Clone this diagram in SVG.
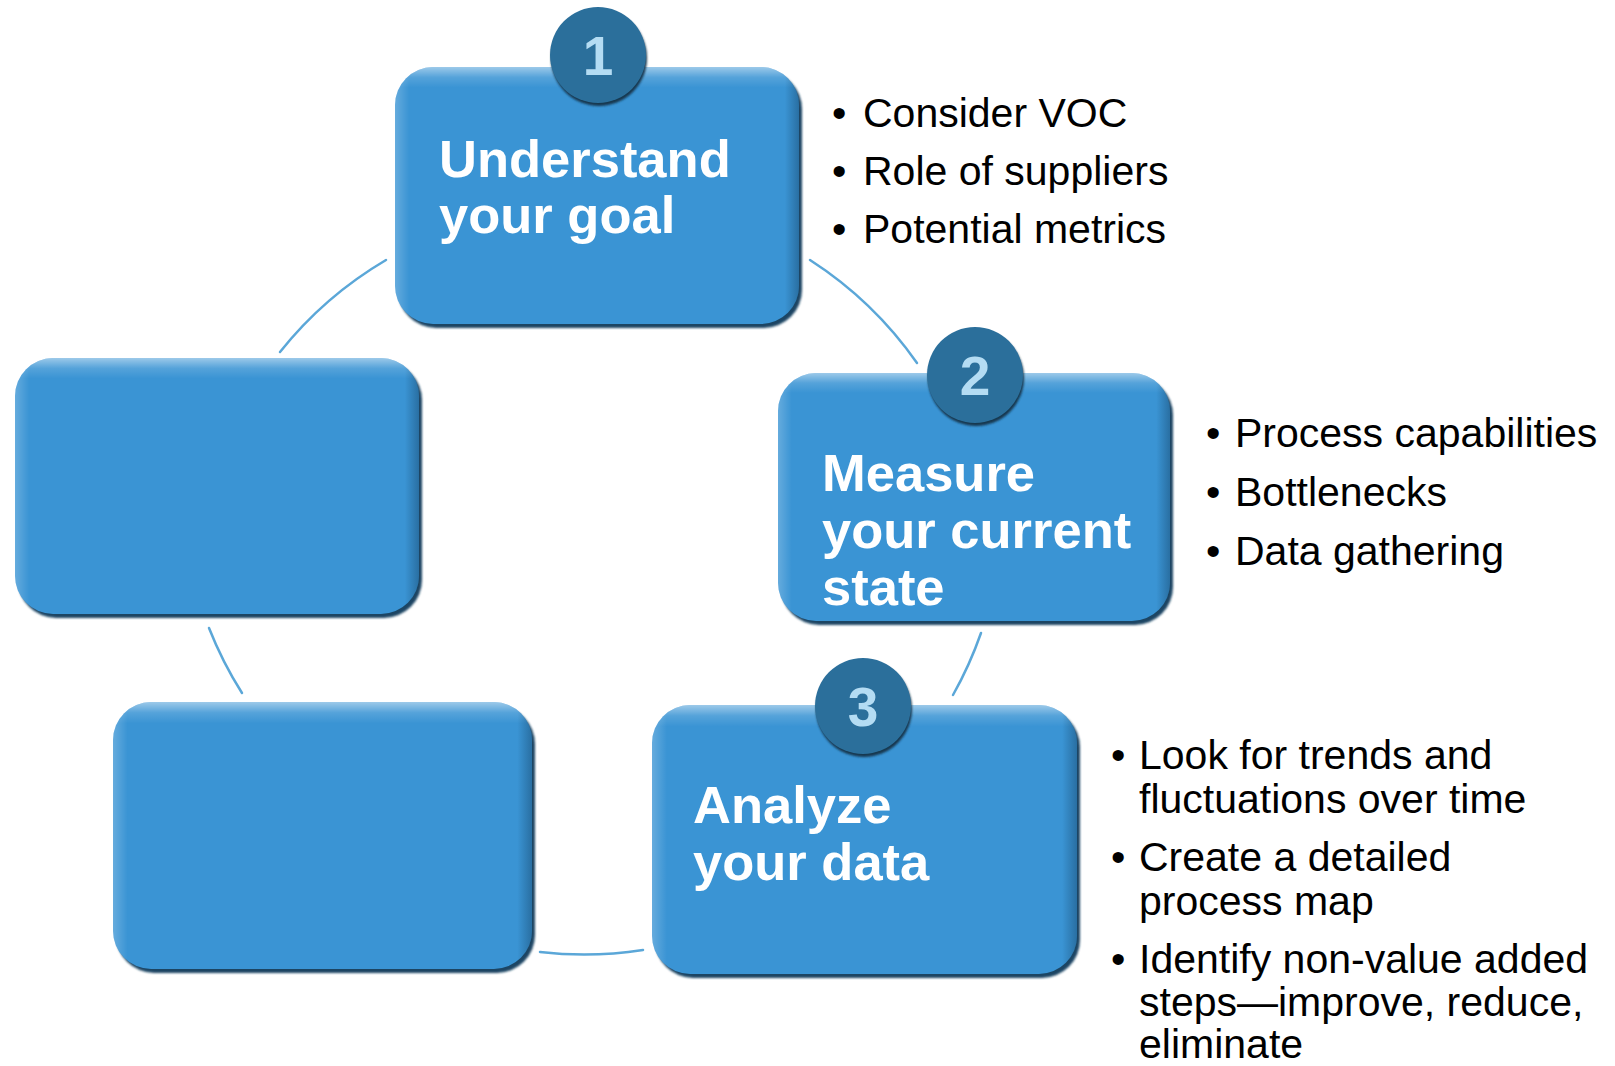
<svg xmlns="http://www.w3.org/2000/svg" width="1615" height="1066" viewBox="0 0 1615 1066">
  <style>
    .shadow { fill: #1b4564; filter: url(#soft); }
    .face { fill: #3a94d4; }
    .side { fill: url(#sideShade); }
    .hi { fill: url(#topHi); }
    .badge-shadow { fill: #17374f; filter: url(#soft); }
    .badge { fill: #2b6f9b; }
    .num { font-family: "Liberation Sans", Arial, sans-serif; font-weight: bold; font-size: 55px; fill: #b4dcf3; text-anchor: middle; }
    .label { font-family: "Liberation Sans", Arial, sans-serif; font-weight: bold; font-size: 52.5px; fill: #ffffff; }
    .bullets { font-family: "Liberation Sans", Arial, sans-serif; font-size: 41px; fill: #000000; }
    .link { fill: none; stroke: #5ba7d8; stroke-width: 2.5; stroke-linecap: round; }
  </style>
  <defs>
    <linearGradient id="topHi" x1="0" y1="0" x2="0" y2="1">
      <stop offset="0" stop-color="#ffffff" stop-opacity="0.5"/>
      <stop offset="0.04" stop-color="#ffffff" stop-opacity="0.14"/>
      <stop offset="0.08" stop-color="#ffffff" stop-opacity="0"/>
    </linearGradient>
    <linearGradient id="sideShade" x1="0" y1="0" x2="1" y2="0">
      <stop offset="0" stop-color="#ffffff" stop-opacity="0.22"/>
      <stop offset="0.035" stop-color="#ffffff" stop-opacity="0"/>
      <stop offset="0.965" stop-color="#0a2a45" stop-opacity="0"/>
      <stop offset="1" stop-color="#0a2a45" stop-opacity="0.35"/>
    </linearGradient>
    <filter id="soft" x="-10%" y="-10%" width="120%" height="120%">
      <feGaussianBlur stdDeviation="1.2"/>
    </filter>
  </defs>

  <rect x="0" y="0" width="1615" height="1066" fill="#ffffff"/>

  <!-- arcs of the cycle between the boxes -->
  <g id="connectors">
    <path class="link" d="M280,352 A385,385 0 0 1 386,260"/>
    <path class="link" d="M810,260 A385,385 0 0 1 917,363"/>
    <path class="link" d="M981,633 A385,385 0 0 1 953,695"/>
    <path class="link" d="M643,950 A385,385 0 0 1 540,952"/>
    <path class="link" d="M242,693 A385,385 0 0 1 209,628"/>
  </g>

  <!-- step 1 -->
  <g id="step1">
    <rect class="shadow" x="398" y="71" width="404" height="257" rx="38"/>
    <rect class="face" x="395" y="67" width="404" height="257" rx="38"/>
    <rect class="side" x="395" y="67" width="404" height="257" rx="38"/>
    <rect class="hi" x="395" y="67" width="404" height="257" rx="38"/>
    <circle class="badge-shadow" cx="599" cy="58" r="48"/>
    <circle class="badge" cx="598" cy="55" r="48"/>
    <text class="num" x="598" y="75">1</text>
    <text class="label"><tspan x="439" y="177">Understand</tspan><tspan x="439" y="233">your goal</tspan></text>
  </g>

  <!-- step 2 -->
  <g id="step2">
    <rect class="shadow" x="781" y="377" width="392" height="248" rx="38"/>
    <rect class="face" x="778" y="373" width="392" height="248" rx="38"/>
    <rect class="side" x="778" y="373" width="392" height="248" rx="38"/>
    <rect class="hi" x="778" y="373" width="392" height="248" rx="38"/>
    <circle class="badge-shadow" cx="976" cy="378" r="48"/>
    <circle class="badge" cx="975" cy="375" r="48"/>
    <text class="num" x="975" y="395">2</text>
    <text class="label"><tspan x="822" y="491">Measure</tspan><tspan x="822" y="548">your current</tspan><tspan x="822" y="605">state</tspan></text>
  </g>

  <!-- step 3 -->
  <g id="step3">
    <rect class="shadow" x="655" y="709" width="425" height="269" rx="38"/>
    <rect class="face" x="652" y="705" width="425" height="269" rx="38"/>
    <rect class="side" x="652" y="705" width="425" height="269" rx="38"/>
    <rect class="hi" x="652" y="705" width="425" height="269" rx="38"/>
    <circle class="badge-shadow" cx="864" cy="709" r="48"/>
    <circle class="badge" cx="863" cy="706" r="48"/>
    <text class="num" x="863" y="726">3</text>
    <text class="label"><tspan x="693" y="823">Analyze</tspan><tspan x="693" y="880">your data</tspan></text>
  </g>

  <!-- step 4 (blank) -->
  <g id="step4">
    <rect class="shadow" x="116" y="706" width="419" height="267" rx="38"/>
    <rect class="face" x="113" y="702" width="419" height="267" rx="38"/>
    <rect class="side" x="113" y="702" width="419" height="267" rx="38"/>
    <rect class="hi" x="113" y="702" width="419" height="267" rx="38"/>
  </g>

  <!-- step 5 (blank) -->
  <g id="step5">
    <rect class="shadow" x="18" y="362" width="404" height="256" rx="38"/>
    <rect class="face" x="15" y="358" width="404" height="256" rx="38"/>
    <rect class="side" x="15" y="358" width="404" height="256" rx="38"/>
    <rect class="hi" x="15" y="358" width="404" height="256" rx="38"/>
  </g>

  <!-- notes for step 1 -->
  <g id="notes1" class="bullets">
    <text x="832" y="127">•</text><text x="863" y="127">Consider VOC</text>
    <text x="832" y="185">•</text><text x="863" y="185">Role of suppliers</text>
    <text x="832" y="243">•</text><text x="863" y="243">Potential metrics</text>
  </g>

  <!-- notes for step 2 -->
  <g id="notes2" class="bullets">
    <text x="1206" y="447">•</text><text x="1235" y="447">Process capabilities</text>
    <text x="1206" y="506">•</text><text x="1235" y="506">Bottlenecks</text>
    <text x="1206" y="565">•</text><text x="1235" y="565">Data gathering</text>
  </g>

  <!-- notes for step 3 -->
  <g id="notes3" class="bullets">
    <text x="1111" y="769">•</text>
    <text><tspan x="1139" y="769">Look for trends and</tspan><tspan x="1139" y="813">fluctuations over time</tspan></text>
    <text x="1111" y="871">•</text>
    <text><tspan x="1139" y="871">Create a detailed</tspan><tspan x="1139" y="915">process map</tspan></text>
    <text x="1111" y="973">•</text>
    <text><tspan x="1139" y="973">Identify non-value added</tspan><tspan x="1139" y="1016">steps—improve, reduce,</tspan><tspan x="1139" y="1058">eliminate</tspan></text>
  </g>
</svg>
